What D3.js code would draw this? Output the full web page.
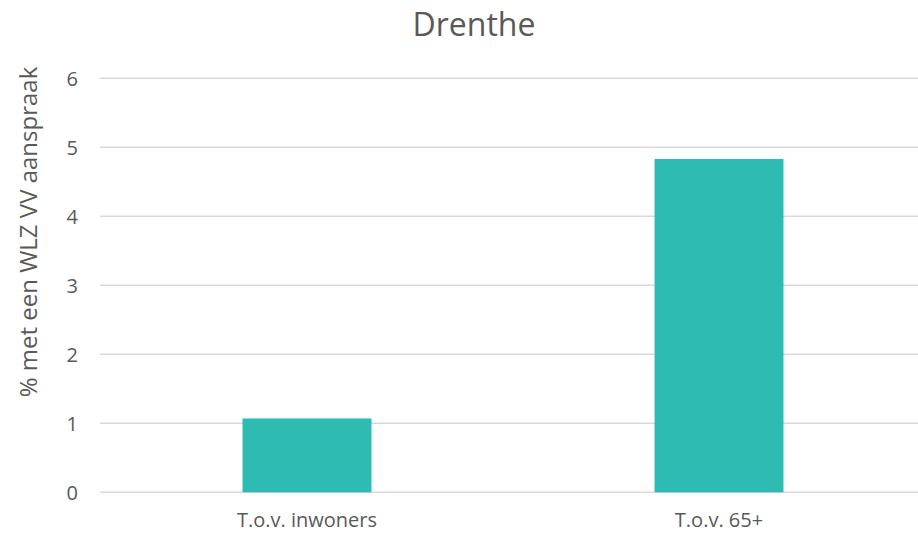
<!DOCTYPE html>
<html>
<head>
<meta charset="utf-8">
<script src="https://cdn.jsdelivr.net/npm/d3@7"></script>
<style>
  body { margin: 0; background: #fff; }
  text { font-family: "Open Sans", "Liberation Sans", sans-serif; fill: #595959; }
</style>
</head>
<body>
<svg id="main"></svg>
<script>
//--------data----------
const categories = ['T.o.v. inwoners', 'T.o.v. 65+'];
const values = [1.07, 4.83];
const yTicks = [0, 1, 2, 3, 4, 5, 6];
const title = 'Drenthe';
const yLabel = '% met een WLZ VV aanspraak';

//--------code----------
let width = 918, height = 534;
let svg = d3.select('#main')
  .attr('width', width)
  .attr('height', height);

let sx = d3.scaleBand()
  .domain(categories)
  .range([101, 925])
  .paddingInner(0.687)
  .paddingOuter(0.687 / 2);

let sy = d3.scaleLinear()
  .domain([0, 6])
  .range([492.3, 78.3]);

// gridlines
svg.selectAll('.grid')
  .data(yTicks)
  .join('line')
  .attr('class', 'grid')
  .attr('x1', 100)
  .attr('x2', width)
  .attr('y1', d => sy(d))
  .attr('y2', d => sy(d))
  .attr('stroke', '#d9d9d9')
  .attr('stroke-width', 1.5);

// y tick labels
svg.selectAll('.ytick')
  .data(yTicks)
  .join('text')
  .attr('class', 'ytick')
  .attr('x', 78)
  .attr('y', d => sy(d))
  .attr('dy', '0.36em')
  .attr('text-anchor', 'end')
  .style('font-size', '20px')
  .text(d => d);

// bars
svg.selectAll('.bar')
  .data(values)
  .join('rect')
  .attr('class', 'bar')
  .attr('x', (d, i) => sx(categories[i]))
  .attr('width', sx.bandwidth())
  .attr('y', d => sy(d))
  .attr('height', d => sy(0) - sy(d))
  .attr('fill', '#2ebbb2');

// category labels
svg.selectAll('.xtick')
  .data(categories)
  .join('text')
  .attr('class', 'xtick')
  .attr('x', d => sx(d) + sx.bandwidth() / 2)
  .attr('y', 527)
  .attr('text-anchor', 'middle')
  .style('font-size', '20px')
  .text(d => d);

// title
svg.append('text')
  .attr('x', 474)
  .attr('y', 36)
  .attr('text-anchor', 'middle')
  .style('font-size', '32px')
  .text(title);

// y axis label
svg.append('text')
  .attr('transform', `translate(37,${232}) rotate(-90)`)
  .attr('text-anchor', 'middle')
  .style('font-size', '24px')
  .text(yLabel);
</script>
</body>
</html>
